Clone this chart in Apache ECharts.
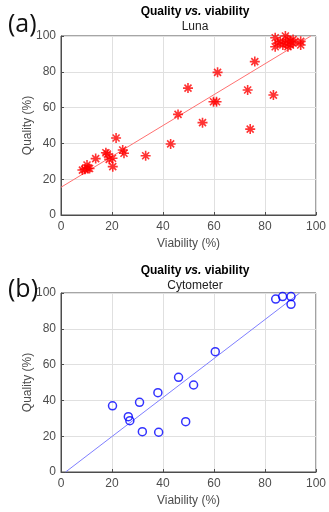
<!DOCTYPE html>
<html>
<head>
<meta charset="utf-8">
<script src="https://cdn.jsdelivr.net/npm/echarts@6/dist/echarts.min.js"></script>
<style>
  html, body { margin: 0; padding: 0; background: #fff; }
  #chart { width: 329px; height: 512px; }
</style>
</head>
<body>
<div id="chart"></div>
<script>
// values
const lunaViability = [84, 84, 85, 86, 87, 88, 88, 89, 89, 90, 90, 91, 91, 94, 94,
  76, 61.4, 49.8, 73.2, 83.3, 59.8, 61, 45.9, 55.5, 74.2, 43, 33.2, 21.6, 24.2, 24.7,
  17.6, 18.2, 20.2, 18.9, 20.3, 13.6, 10.2, 10.6, 8.4, 9.3, 11.2];
const lunaQuality = [99, 94, 96, 97, 95, 100, 96, 94, 98, 95, 97, 98, 96, 97, 95,
  85.7, 79.7, 70.9, 69.8, 67, 63.3, 63.3, 56.2, 51.6, 48, 39.7, 33.1, 43, 36.3, 34.5,
  34.8, 34, 31.7, 31.1, 27, 31.5, 27.9, 26, 25.1, 25.5, 26];
const lunaFitX = [0, 98];
const lunaFitY = [15.5, 100];

const cytoViability = [20.2, 26.4, 27, 30.8, 31.9, 38, 38.3, 46.1, 48.9, 52, 60.5, 84.2, 86.9, 90.2, 90.2];
const cytoQuality = [37, 30.9, 28.7, 38.9, 22.5, 44.3, 22.2, 52.9, 28.1, 48.6, 67.2, 96.6, 98, 98, 93.7];
const cytoFitX = [1.8, 93.6];
const cytoFitY = [0, 100];

const ticks = [0, 20, 40, 60, 80, 100];

const FONT = "'Liberation Sans', Arial, sans-serif";
const ASTERISK = "path://M0,-5L0,5M-5,0L5,0M-3.5,-3.5L3.5,3.5M-3.5,3.5L3.5,-3.5";

const zip = (xs, ys) => xs.map((x, i) => [x, ys[i]]);

const chart = echarts.init(document.getElementById("chart"), null, { renderer: "canvas" });

function makeAxes(gi) {
  const common = {
    gridIndex: gi,
    type: "value",
    min: ticks[0],
    max: ticks[ticks.length - 1],
    interval: 20,
    nameLocation: "middle",
    nameMoveOverlap: false,
    nameTextStyle: { color: "#4d4d4d", fontSize: 12, fontFamily: FONT },
    axisLine: { show: true, lineStyle: { color: "#4d4d4d", width: 1 } },
    axisTick: { show: true, inside: true, length: 3, lineStyle: { color: "#4d4d4d" } },
    axisLabel: { color: "#4d4d4d", fontSize: 12, fontFamily: FONT },
    splitLine: { show: true, lineStyle: { color: "#e0e0e0", width: 1 } },
  };
  return {
    x: { ...common, name: "Viability (%)", nameGap: 23, axisLabel: { ...common.axisLabel, margin: 6 } },
    y: { ...common, name: "Quality (%)", nameGap: 27, axisLabel: { ...common.axisLabel, margin: 5 } },
  };
}

const a0 = makeAxes(0);
const a1 = makeAxes(1);

const titleRich = {
  b: { fontWeight: "bold", fontSize: 12, color: "#000", fontFamily: FONT },
  i: { fontWeight: "bold", fontStyle: "italic", fontSize: 12, color: "#000", fontFamily: FONT },
};

chart.setOption({
  animation: false,
  backgroundColor: "#fff",
  title: [
    { text: "{b|Quality }{i|vs.}{b| viability}", left: 190, top: 1, textAlign: "center", textStyle: { rich: titleRich } },
    { text: "Luna", left: 190, top: 16, textAlign: "center", textStyle: { fontSize: 12, fontWeight: "normal", color: "#222", fontFamily: FONT } },
    { text: "(a)", left: 3, top: 7, textStyle: { fontSize: 25, fontWeight: "normal", color: "#111", fontFamily: "'Open Sans', sans-serif" } },
    { text: "{b|Quality }{i|vs.}{b| viability}", left: 190, top: 260, textAlign: "center", textStyle: { rich: titleRich } },
    { text: "Cytometer", left: 190, top: 275, textAlign: "center", textStyle: { fontSize: 12, fontWeight: "normal", color: "#222", fontFamily: FONT } },
    { text: "(b)", left: 3, top: 272, textStyle: { fontSize: 25, fontWeight: "normal", color: "#111", fontFamily: "'Open Sans', sans-serif" } },
  ],
  grid: [
    { left: 61, top: 36, width: 259, height: 179, show: true, borderColor: "#4d4d4d", borderWidth: 1, backgroundColor: "#fff" },
    { left: 61, top: 293, width: 259, height: 179, show: true, borderColor: "#4d4d4d", borderWidth: 1, backgroundColor: "#fff" },
  ],
  xAxis: [a0.x, a1.x],
  yAxis: [a0.y, a1.y],
  series: [
    {
      type: "line",
      xAxisIndex: 0, yAxisIndex: 0,
      data: zip(lunaFitX, lunaFitY),
      showSymbol: false,
      lineStyle: { color: "#ff7070", width: 1 },
      z: 2,
    },
    {
      type: "scatter",
      xAxisIndex: 0, yAxisIndex: 0,
      data: zip(lunaViability, lunaQuality),
      symbol: ASTERISK,
      symbolSize: 10,
      itemStyle: { color: "rgba(0,0,0,0)", borderColor: "#ff0000", borderWidth: 1.6 },
      z: 3,
    },
    {
      type: "line",
      xAxisIndex: 1, yAxisIndex: 1,
      data: zip(cytoFitX, cytoFitY),
      showSymbol: false,
      lineStyle: { color: "#7f7fff", width: 1 },
      z: 2,
    },
    {
      type: "scatter",
      xAxisIndex: 1, yAxisIndex: 1,
      data: zip(cytoViability, cytoQuality),
      symbol: "circle",
      symbolSize: 8,
      itemStyle: { color: "rgba(0,0,0,0)", borderColor: "#0000ff", borderWidth: 1.5 },
      z: 3,
    },
  ],
});
</script>
</body>
</html>
